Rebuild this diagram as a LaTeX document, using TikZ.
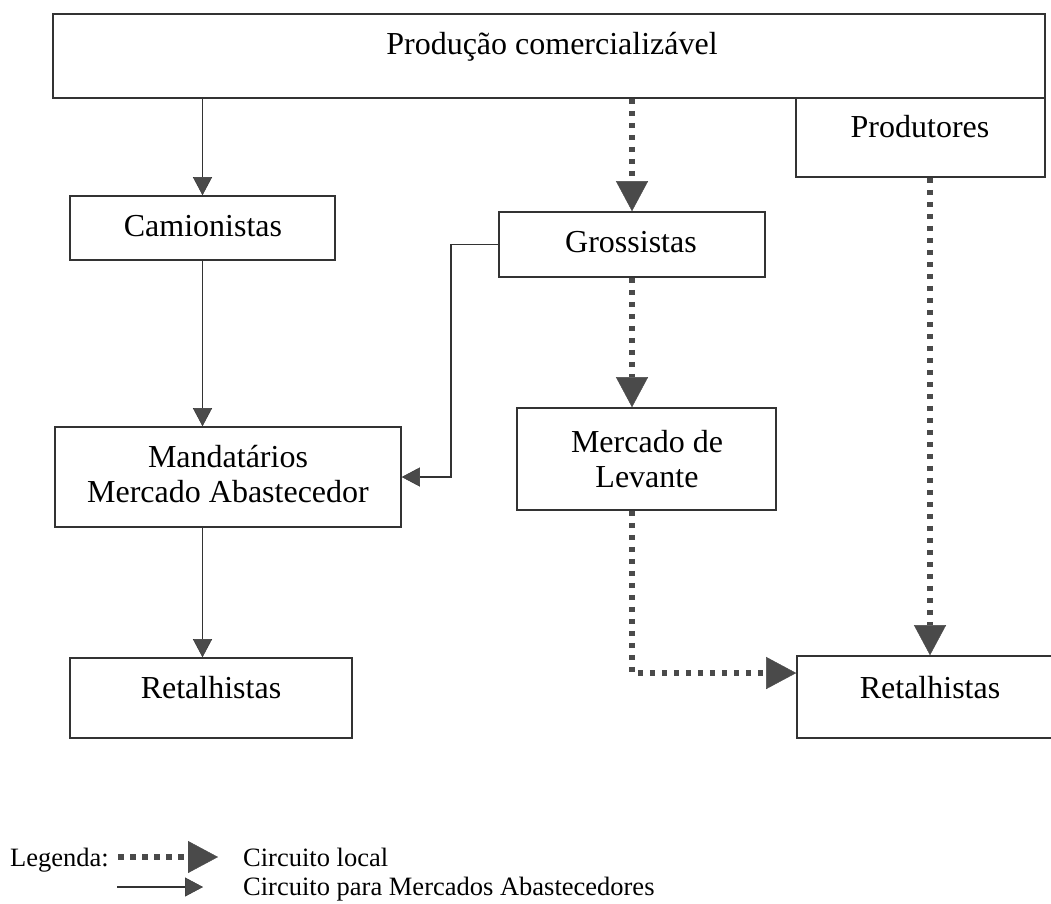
\documentclass[tikz,border=0pt]{standalone}
\usepackage{fontspec}
\setmainfont{Liberation Serif}
\usetikzlibrary{arrows.meta}

\definecolor{linegray}{HTML}{333333}
\definecolor{tipgray}{HTML}{4A4A4A}

\tikzstyle{box} = [style={rectangle,draw=linegray,line width=1.6pt,inner sep=0pt}]
\tikzstyle{txt} = [style={align=center,font=\fontsize{32}{35}\selectfont,inner sep=0pt}]
\tikzstyle{leg} = [style={anchor=base west,font=\fontsize{26.5}{30}\selectfont,inner sep=0pt}]
\tikzstyle{mainline} = [style={draw=linegray,line width=1.6pt,
  -{Triangle[width=19pt,length=18pt,line width=0.4pt,fill=tipgray]}}]
\tikzstyle{localline} = [style={draw=tipgray,line width=5.5pt,dash pattern=on 5.5pt off 6.5pt,
  -{Triangle[width=32pt,length=30pt,line width=0.4pt]}}]

\begin{document}
\begin{tikzpicture}[x=1pt,y=-1pt]
\clip (0,0) rectangle (1051,903);

%% boxes
\foreach \n/\x/\y/\w/\h in {prod/549/56/992/84, produt/920.5/137.5/249/79,
  cam/202.5/228/265/64, gros/632/244.5/266/65, mand/228/477/346/100,
  merc/646.5/459/259/102, retL/211/698/282/80, retR/930/697/266/82}
  {\node [box,minimum width=\w pt,minimum height=\h pt] (\n) at (\x,\y) {};}

%% texts
\node [txt] (prodtxt) at (552,47) {Produção comercializável};
\node [txt] (produttxt) at (920,127) {Produtores};
\node [txt] (camtxt) at (203,226) {Camionistas};
\node [txt] (grostxt) at (631,242) {Grossistas};
\node [txt] (mandtxt) at (228,474) {Mandatários\\Mercado Abastecedor};
\node [txt] (merctxt) at (647,459) {Mercado de\\Levante};
\node [txt] (retLtxt) at (211,688) {Retalhistas};
\node [txt] (retRtxt) at (930,688) {Retalhistas};

%% circuito para mercados abastecedores
\draw [mainline] (cam.north |- prod.south) -- (cam.north);
\draw [mainline] (cam.south) -- (cam.south |- mand.north);
\draw [mainline] (cam.south |- mand.south) -- (cam.south |- retL.north);
\draw [mainline] (gros.west) -- ++(-47,0) |- (mand.east);

%% circuito local
\draw [localline] (gros.north |- prod.south) -- (gros.north);
\draw [localline] (gros.south) -- (gros.south |- merc.north);
\draw [localline] (gros.south |- merc.south) |- ([yshift=24pt]retR.west);
\draw [localline] (retR.north |- produt.south) -- (retR.north);

%% legenda
\coordinate (locA) at (118,857);
\coordinate (locB) at (218,857);
\coordinate (mainA) at (117,887);
\coordinate (mainB) at (203,887);
\node [leg] (legtitle) at (10,866) {Legenda:};
\draw [localline] (locA) -- (locB);
\node [leg] (loctxt) at (243,866) {Circuito local};
\draw [mainline] (mainA) -- (mainB);
\node [leg] (maintxt) at (243,895) {Circuito para Mercados Abastecedores};

\end{tikzpicture}
\end{document}
